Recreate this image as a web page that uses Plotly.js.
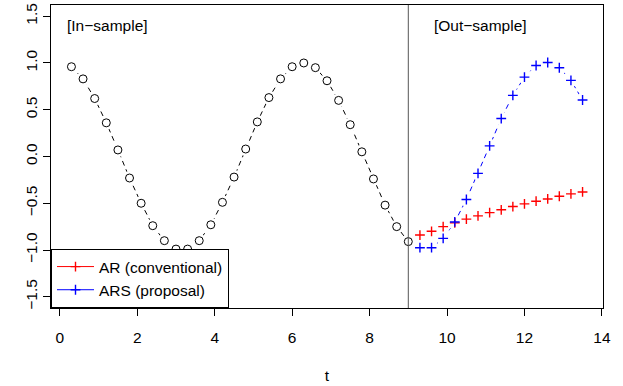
<!DOCTYPE html>
<html>
<head>
<meta charset="utf-8">
<script src="https://cdn.plot.ly/plotly-3.0.1.min.js"></script>
<style>html,body{margin:0;padding:0;background:#fff;}#chart{width:623px;height:386px;}</style>
</head>
<body>
<div id="chart"></div>
<script>
var tIn = [0.3,0.6,0.9,1.2,1.5,1.8,2.1,2.4,2.7,3.0,3.3,3.6,3.9,4.2,4.5,4.8,5.1,5.4,5.7,6.0,6.3,6.6,6.9,7.2,7.5,7.8,8.1,8.4,8.7,9.0];
var yIn = [0.96,0.83,0.62,0.36,0.07,-0.23,-0.50,-0.74,-0.90,-0.99,-0.99,-0.90,-0.73,-0.49,-0.22,0.08,0.37,0.63,0.83,0.96,1.00,0.95,0.81,0.60,0.34,0.05,-0.24,-0.52,-0.75,-0.91];
var tOut = [9.3,9.6,9.9,10.2,10.5,10.8,11.1,11.4,11.7,12.0,12.3,12.6,12.9,13.2,13.5];
var yAR = [-0.84,-0.80,-0.75,-0.71,-0.67,-0.635,-0.60,-0.57,-0.535,-0.507,-0.478,-0.454,-0.425,-0.40,-0.379];
var yARS = [-0.975,-0.975,-0.876,-0.70,-0.46,-0.18,0.114,0.406,0.654,0.849,0.973,1.005,0.949,0.814,0.604];
var legendNames = ["AR (conventional)","ARS (proposal)"];
var xTicks = [0,2,4,6,8,10,12,14];
var yTicks = [-1.5,-1.0,-0.5,0.0,0.5,1.0,1.5];
var yTickText = ["\u22121.5","\u22121.0","\u22120.5","0.0","0.5","1.0","1.5"];
var xTickText = xTicks.map(String);
var splitT = 9;

var FS = 15.5;
var font = {family:'Liberation Sans, Arial, sans-serif', size:FS, color:'black'};
var crossMarker = function(c){ return {symbol:'cross-thin', size:7, color:c, line:{color:c, width:1.4}}; };
var dashLine = function(c){ return {color:c, width:1, dash:'5px,4px'}; };
var gap = {symbol:'circle', size:14, color:'white', line:{width:0}};

var series = [
  {x:tIn, y:yIn, c:'black', m:{symbol:'circle', size:8, color:'white', line:{color:'black', width:1}}},
  {x:tOut, y:yAR, c:'red', m:crossMarker('red')},
  {x:tOut, y:yARS, c:'blue', m:crossMarker('blue')}
];
var traces = [];
series.forEach(function(s){
  traces.push({x:s.x, y:s.y, type:'scatter', mode:'lines', showlegend:false, line:dashLine(s.c)});
});
series.forEach(function(s){
  traces.push({x:s.x, y:s.y, type:'scatter', mode:'markers', showlegend:false, marker:gap});
});
series.forEach(function(s){
  traces.push({x:s.x, y:s.y, type:'scatter', mode:'markers', showlegend:false, marker:s.m});
});
traces.push({x:[null], y:[null], type:'scatter', mode:'lines+markers', name:legendNames[0],
   line:{color:'red', width:1}, marker:crossMarker('red')});
traces.push({x:[null], y:[null], type:'scatter', mode:'lines+markers', name:legendNames[1],
   line:{color:'blue', width:1}, marker:crossMarker('blue')});

var layout = {
  width:623, height:386,
  margin:{l:51, r:20, t:5, b:78},
  paper_bgcolor:'white', plot_bgcolor:'white',
  font: font,
  showlegend:true,
  xaxis:{range:[-0.228,14.028], tickvals:xTicks, ticktext:xTickText, ticks:'outside', ticklen:7, tickcolor:'black',
         ticklabelstandoff:8,
         showgrid:false, zeroline:false, showline:true, linecolor:'black', linewidth:1, mirror:true,
         title:{text:'t', font:font, standoff:25}, tickfont:font},
  yaxis:{range:[-1.62,1.62], tickvals:yTicks, ticktext:yTickText, ticks:'outside', ticklen:7, tickcolor:'black',
         tickangle:-90, showgrid:false, zeroline:false, showline:true, linecolor:'black', linewidth:1, mirror:true,
         tickfont:font},
  legend:{x:0, y:0, xanchor:'left', yanchor:'bottom', bgcolor:'white', bordercolor:'black', borderwidth:1,
          font:font, tracegroupgap:0, itemwidth:37},
  shapes:[{type:'line', xref:'x', yref:'paper', x0:splitT, x1:splitT, y0:0, y1:1, line:{color:'#555', width:1}}],
  annotations:[
    {xref:'x', yref:'y', x:0.13, y:1.40, text:'[In\u2212sample]', showarrow:false, xanchor:'left', yanchor:'middle', font:font},
    {xref:'x', yref:'y', x:9.6, y:1.40, text:'[Out\u2212sample]', showarrow:false, xanchor:'left', yanchor:'middle', font:font}
  ]
};
Plotly.newPlot('chart', traces, layout, {displayModeBar:false, staticPlot:true});
</script>
</body>
</html>
